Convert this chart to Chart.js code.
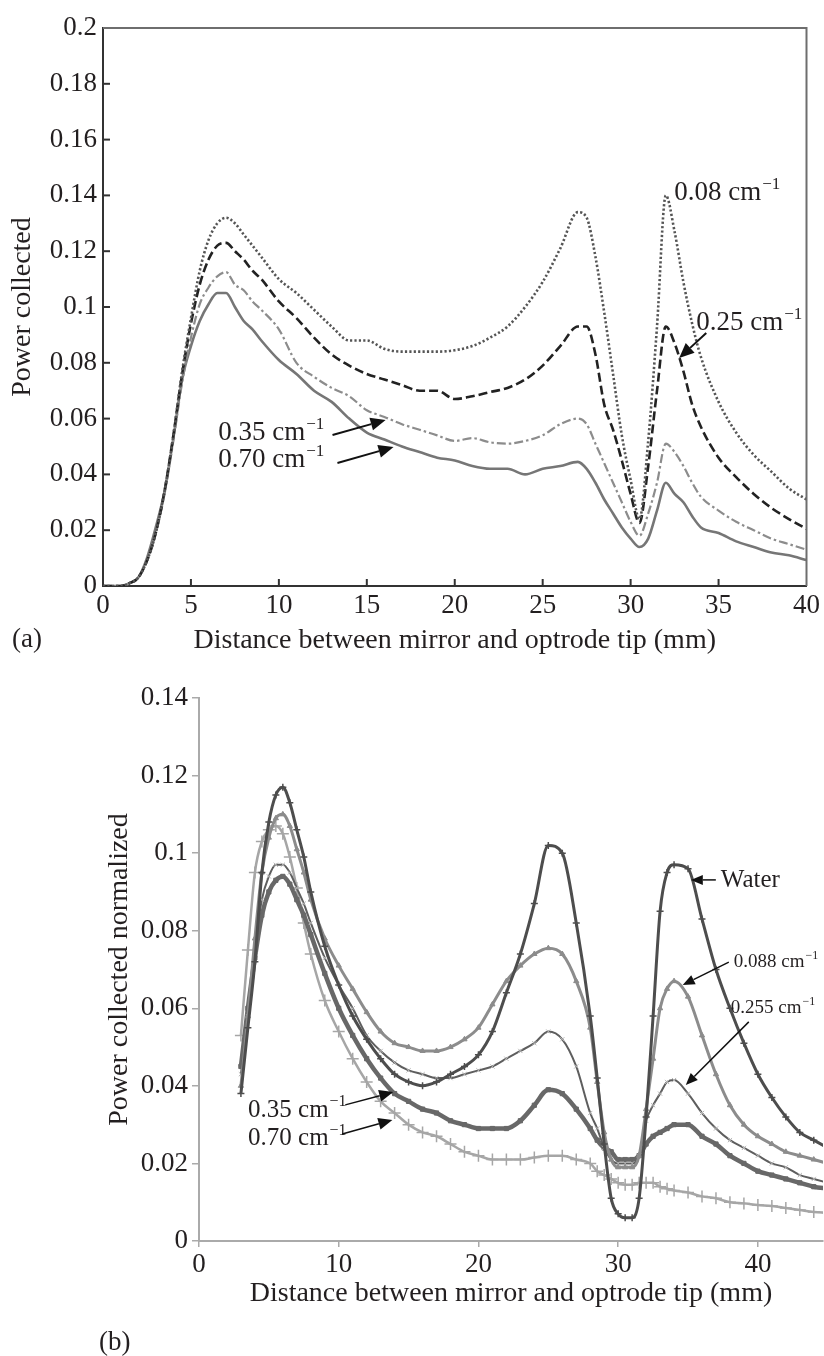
<!DOCTYPE html>
<html><head><meta charset="utf-8">
<script src="https://cdn.jsdelivr.net/npm/chart.js@4.4.0/dist/chart.umd.min.js"></script>
<style>
html,body{margin:0;padding:0;background:#fff;}
canvas{position:absolute;left:0;display:block;}
#ca{top:0;}
#cb{top:665px;}
</style></head><body>
<canvas id="ca" width="824" height="665" style="width:824px;height:665px"></canvas>
<canvas id="cb" width="824" height="691" style="width:824px;height:691px"></canvas>
<script>
// ---------- Panel (a) data ----------
const xA = [0,0.5,1,1.5,2,2.5,3,3.5,4,4.5,5,5.5,6,6.5,7,7.5,8,8.5,9,
  10,11,12,13,14,15,16,17,18,19,20,21,22,23,24,25,26,27,
  27.5,28,28.5,29,29.5,30,30.5,31,31.5,32,32.5,33,33.5,34,
  35,36,37,38,39,40];
const a008 = [0,0,0,0.001,0.003,0.009,0.019,0.034,0.054,0.077,0.096,0.113,0.124,0.130,0.132,0.130,0.126,0.122,0.118,
  0.110,0.105,0.099,0.093,0.088,0.088,0.085,0.084,0.084,0.084,0.0845,0.086,0.089,0.093,0.100,0.109,0.121,0.134,
  0.132,0.118,0.098,0.076,0.054,0.038,0.024,0.052,0.093,0.140,0.127,0.109,0.094,0.082,
  0.066,0.055,0.047,0.041,0.035,0.031];
const a025 = [0,0,0,0.001,0.003,0.009,0.019,0.034,0.054,0.076,0.094,0.108,0.117,0.122,0.123,0.120,0.117,0.113,0.110,
  0.102,0.096,0.089,0.083,0.079,0.076,0.074,0.072,0.070,0.070,0.067,0.068,0.0695,0.071,0.074,0.079,0.086,0.093,
  0.093,0.083,0.065,0.056,0.045,0.033,0.0226,0.043,0.070,0.093,0.087,0.077,0.065,0.057,
  0.046,0.039,0.033,0.028,0.024,0.0205];
const a035 = [0,0,0,0.001,0.003,0.009,0.019,0.033,0.052,0.073,0.089,0.101,0.107,0.111,0.1125,0.108,0.106,0.102,0.099,
  0.092,0.080,0.075,0.071,0.068,0.063,0.0606,0.058,0.056,0.054,0.052,0.053,0.0515,0.051,0.052,0.054,0.058,0.060,
  0.058,0.051,0.044,0.037,0.030,0.023,0.018,0.026,0.037,0.051,0.048,0.043,0.037,0.032,
  0.027,0.023,0.020,0.017,0.015,0.013];
const a070 = [0,0,0,0.001,0.003,0.010,0.021,0.034,0.053,0.074,0.086,0.095,0.101,0.105,0.105,0.100,0.095,0.092,0.088,
  0.081,0.076,0.070,0.066,0.060,0.055,0.0525,0.050,0.048,0.046,0.045,0.043,0.042,0.042,0.040,0.042,0.043,0.0445,
  0.042,0.037,0.031,0.026,0.021,0.017,0.014,0.017,0.027,0.037,0.033,0.030,0.025,0.021,
  0.019,0.016,0.014,0.012,0.011,0.0093];
const xTicksA = [0,5,10,15,20,25,30,35,40];
const yTicksA = [0,0.02,0.04,0.06,0.08,0.1,0.12,0.14,0.16,0.18,0.2];

// ---------- Panel (b) data ----------
const xB = [3,3.5,4,4.5,5,5.5,6,6.5,7,7.5,8,
  9,10,11,12,13,14,15,16,17,18,19,20,21,22,23,24,25,26,27,28,
  28.5,29,29.5,30,30.5,31,31.5,32,32.5,33,33.5,34,
  35,36,37,38,39,40,41,42,43,44,45];
const bWater = [0.038,0.055,0.072,0.095,0.108,0.115,0.117,0.113,0.106,0.099,0.090,
  0.076,0.066,0.058,0.052,0.047,0.043,0.041,0.040,0.041,0.043,0.045,0.048,0.054,0.064,0.074,0.087,0.102,0.100,0.082,0.058,
  0.042,0.025,0.011,0.007,0.006,0.006,0.011,0.032,0.058,0.085,0.095,0.097,
  0.096,0.083,0.070,0.060,0.051,0.043,0.037,0.032,0.028,0.026,0.024];
const b088 = [0.040,0.058,0.078,0.095,0.104,0.109,0.110,0.107,0.101,0.095,0.088,
  0.078,0.071,0.065,0.059,0.054,0.051,0.050,0.049,0.049,0.050,0.052,0.055,0.061,0.067,0.071,0.074,0.0755,0.074,0.067,0.055,
  0.041,0.028,0.021,0.019,0.019,0.019,0.022,0.034,0.047,0.060,0.065,0.067,
  0.063,0.053,0.043,0.035,0.030,0.027,0.025,0.023,0.022,0.021,0.020];
const b255 = [0.043,0.058,0.075,0.088,0.094,0.097,0.097,0.095,0.091,0.087,0.082,
  0.073,0.066,0.060,0.053,0.049,0.046,0.044,0.043,0.042,0.042,0.043,0.044,0.045,0.047,0.049,0.051,0.054,0.052,0.045,0.033,
  0.029,0.024,0.021,0.020,0.020,0.020,0.022,0.031,0.035,0.038,0.041,0.0415,
  0.038,0.033,0.029,0.026,0.024,0.022,0.020,0.019,0.017,0.016,0.015];
const b035 = [0.045,0.060,0.073,0.084,0.090,0.093,0.094,0.092,0.088,0.084,0.079,
  0.069,0.060,0.053,0.047,0.042,0.038,0.036,0.034,0.033,0.031,0.030,0.029,0.029,0.029,0.031,0.035,0.039,0.038,0.034,0.029,
  0.026,0.024,0.023,0.021,0.021,0.021,0.022,0.025,0.027,0.028,0.029,0.030,
  0.030,0.027,0.025,0.022,0.020,0.018,0.017,0.016,0.015,0.014,0.0135];
const b070 = [0.053,0.075,0.095,0.103,0.106,0.107,0.105,0.099,0.091,0.082,0.074,
  0.062,0.054,0.047,0.041,0.036,0.033,0.030,0.028,0.027,0.025,0.023,0.022,0.021,0.021,0.021,0.0215,0.022,0.022,0.021,0.020,
  0.018,0.017,0.016,0.015,0.0145,0.0145,0.015,0.015,0.015,0.014,0.0135,0.013,
  0.0125,0.0115,0.011,0.010,0.0097,0.0093,0.009,0.0085,0.008,0.0075,0.0073];
const xTicksB = [0,10,20,30,40];
const yTicksB = [0,0.02,0.04,0.06,0.08,0.1,0.12,0.14];

// ---------- helpers ----------
const SERIF = '"Liberation Serif", "Times New Roman", serif';
const TXT = '#231f20';
const pts = (xs, ys) => xs.map((x, i) => ({x, y: ys[i]}));

function drawLabel(ctx, main, sup, px, py, size) {
  ctx.fillStyle = TXT;
  ctx.textBaseline = 'alphabetic';
  ctx.textAlign = 'left';
  ctx.font = size + 'px ' + SERIF;
  ctx.fillText(main, px, py);
  if (sup) {
    const w = ctx.measureText(main).width;
    ctx.font = Math.round(size * 0.64) + 'px ' + SERIF;
    ctx.fillText(sup, px + w + 1, py - size * 0.42);
  }
}
function arrow(ctx, x1, y1, x2, y2, head, hw, lw) {
  const ang = Math.atan2(y2 - y1, x2 - x1);
  const bx = x2 - head * Math.cos(ang), by = y2 - head * Math.sin(ang);
  ctx.strokeStyle = '#111'; ctx.fillStyle = '#111'; ctx.lineWidth = lw;
  ctx.setLineDash([]);
  ctx.beginPath(); ctx.moveTo(x1, y1); ctx.lineTo(bx, by); ctx.stroke();
  ctx.beginPath(); ctx.moveTo(x2, y2);
  ctx.lineTo(bx + hw * Math.sin(ang), by - hw * Math.cos(ang));
  ctx.lineTo(bx - hw * Math.sin(ang), by + hw * Math.cos(ang));
  ctx.closePath(); ctx.fill();
}

// annotations in data coordinates
const notesA = [
  {t:'0.08 cm', s:'\u22121', x:32.48, y:0.1384, size:27},
  {t:'0.25 cm', s:'\u22121', x:33.73, y:0.0918, size:27},
  {t:'0.35 cm', s:'\u22121', x:6.55, y:0.0523, size:27},
  {t:'0.70 cm', s:'\u22121', x:6.55, y:0.0427, size:27}
];
const arrowsA = [
  {from:[34.30,0.0907], to:[32.76,0.0817]},
  {from:[13.05,0.0541], to:[16.07,0.0595]},
  {from:[13.33,0.0441], to:[16.52,0.0498]}
];
const notesB = [
  {t:'Water', s:'', x:37.35, y:0.0913, size:25},
  {t:'0.088 cm', s:'\u22121', x:38.28, y:0.0706, size:19},
  {t:'0.255 cm', s:'\u22121', x:38.06, y:0.0588, size:19},
  {t:'0.35 cm', s:'\u22121', x:3.51, y:0.032, size:25},
  {t:'0.70 cm', s:'\u22121', x:3.51, y:0.0247, size:25}
];
const arrowsB = [
  {from:[36.99,0.0931], to:[35.2,0.0931], head:12, hw:5},
  {from:[37.92,0.0719], to:[34.62,0.066], head:12, hw:5},
  {from:[39.35,0.0565], to:[34.84,0.0402], head:12, hw:5},
  {from:[10.47,0.0351], to:[13.9,0.0384], head:14, hw:6},
  {from:[10.25,0.0276], to:[13.84,0.0312], head:14, hw:6}
];

const decorA = {
  id: 'decorA',
  afterDraw(chart) {
    const {ctx, chartArea: a, scales: {x, y}} = chart;
    ctx.save();
    ctx.setLineDash([]);
    ctx.strokeStyle = '#6e6e6e'; ctx.lineWidth = 2;
    ctx.beginPath(); ctx.moveTo(a.left, a.top); ctx.lineTo(a.right, a.top); ctx.lineTo(a.right, a.bottom); ctx.stroke();
    ctx.strokeStyle = '#333'; ctx.lineWidth = 2;
    x.ticks.forEach(t => { const p = x.getPixelForValue(t.value); if (p > a.left + 1 && p < a.right - 1) { ctx.beginPath(); ctx.moveTo(p, a.bottom); ctx.lineTo(p, a.bottom - 7); ctx.stroke(); } });
    y.ticks.forEach(t => { const p = y.getPixelForValue(t.value); if (p > a.top + 1 && p < a.bottom - 1) { ctx.beginPath(); ctx.moveTo(a.left, p); ctx.lineTo(a.left + 7, p); ctx.stroke(); } });
    notesA.forEach(n => drawLabel(ctx, n.t, n.s, x.getPixelForValue(n.x), y.getPixelForValue(n.y), n.size));
    arrowsA.forEach(r => arrow(ctx, x.getPixelForValue(r.from[0]), y.getPixelForValue(r.from[1]), x.getPixelForValue(r.to[0]), y.getPixelForValue(r.to[1]), 15, 6.5, 2));
    drawLabel(ctx, '(a)', '', 12, 647, 27);
    ctx.restore();
  }
};
const decorB = {
  id: 'decorB',
  afterDraw(chart) {
    const {ctx, scales: {x, y}} = chart;
    ctx.save();
    notesB.forEach(n => drawLabel(ctx, n.t, n.s, x.getPixelForValue(n.x), y.getPixelForValue(n.y), n.size));
    arrowsB.forEach(r => arrow(ctx, x.getPixelForValue(r.from[0]), y.getPixelForValue(r.from[1]), x.getPixelForValue(r.to[0]), y.getPixelForValue(r.to[1]), r.head, r.hw, 1.5));
    drawLabel(ctx, '(b)', '', 99, 685, 27);
    ctx.restore();
  }
};

const tickFont = {family: SERIF, size: 27};
const titleFont = {family: SERIF, size: 28};

// ---------- Chart (a) ----------
new Chart(document.getElementById('ca'), {
  type: 'line',
  data: {
    datasets: [
      {label:'0.08 cm-1', data: pts(xA, a008), borderColor:'#555', borderWidth:2.6, borderDash:[2.2,2.2], pointRadius:0, cubicInterpolationMode:'monotone'},
      {label:'0.25 cm-1', data: pts(xA, a025), borderColor:'#222', borderWidth:2.6, borderDash:[9,4], pointRadius:0, cubicInterpolationMode:'monotone'},
      {label:'0.35 cm-1', data: pts(xA, a035), borderColor:'#8c8c8c', borderWidth:2.2, borderDash:[9,3,2.5,3], pointRadius:0, cubicInterpolationMode:'monotone'},
      {label:'0.70 cm-1', data: pts(xA, a070), borderColor:'#767676', borderWidth:2.6, pointRadius:0, cubicInterpolationMode:'monotone'}
    ]
  },
  options: {
    responsive: false, animation: false,
    layout: {padding: {left: 0, right: 17, top: 28, bottom: 0}},
    plugins: {legend: {display: false}, tooltip: {enabled: false}},
    scales: {
      x: {
        type: 'linear', min: 0, max: 40,
        afterBuildTicks: s => { s.ticks = xTicksA.map(v => ({value: v})); },
        afterFit: s => { s.height = 79; },
        grid: {display: true, drawOnChartArea: false, drawTicks: false},
        border: {display: true, color: '#333', width: 2},
        ticks: {font: tickFont, color: TXT, padding: 4, maxRotation: 0, callback: v => String(v)},
        title: {display: true, text: 'Distance between mirror and optrode tip (mm)', font: titleFont, color: TXT, padding: {top: 0, bottom: 8}}
      },
      y: {
        type: 'linear', min: 0, max: 0.2,
        afterBuildTicks: s => { s.ticks = yTicksA.map(v => ({value: v})); },
        afterFit: s => { s.width = 103; },
        grid: {display: true, drawOnChartArea: false, drawTicks: false},
        border: {display: true, color: '#333', width: 2},
        ticks: {font: tickFont, color: TXT, padding: 6, callback: v => String(Math.round(v * 100) / 100)},
        title: {display: true, text: 'Power collected', font: titleFont, color: TXT, padding: {top: 6, bottom: 0}}
      }
    }
  },
  plugins: [decorA]
});

// ---------- Chart (b) ----------
new Chart(document.getElementById('cb'), {
  type: 'line',
  data: {
    datasets: [
      {label:'Water', data: pts(xB, bWater), borderColor:'#4d4d4d', borderWidth:3, pointStyle:'cross', pointRadius:3.5, pointBorderColor:'#4d4d4d', pointBorderWidth:1.5, cubicInterpolationMode:'monotone'},
      {label:'0.088 cm-1', data: pts(xB, b088), borderColor:'#8c8c8c', borderWidth:3, pointStyle:'triangle', pointRadius:3, pointBackgroundColor:'#8c8c8c', pointBorderColor:'#8c8c8c', pointBorderWidth:1, cubicInterpolationMode:'monotone'},
      {label:'0.255 cm-1', data: pts(xB, b255), borderColor:'#5e5e5e', borderWidth:2, pointStyle:'crossRot', pointRadius:3, pointBorderColor:'#b4b4b4', pointBorderWidth:1, cubicInterpolationMode:'monotone'},
      {label:'0.35 cm-1', data: pts(xB, b035), borderColor:'#686868', borderWidth:4.5, pointStyle:'rect', pointRadius:3, pointBackgroundColor:'#686868', pointBorderColor:'#686868', pointBorderWidth:1, cubicInterpolationMode:'monotone'},
      {label:'0.70 cm-1', data: pts(xB, b070), borderColor:'#a6a6a6', borderWidth:2.5, pointStyle:'cross', pointRadius:6, pointBorderColor:'#a6a6a6', pointBorderWidth:1.5, cubicInterpolationMode:'monotone'}
    ]
  },
  options: {
    responsive: false, animation: false,
    layout: {autoPadding: false, padding: {left: 0, right: 1, top: 33, bottom: 0}},
    plugins: {legend: {display: false}, tooltip: {enabled: false}},
    scales: {
      x: {
        type: 'linear', min: 0, max: 44.66,
        afterBuildTicks: s => { s.ticks = xTicksB.map(v => ({value: v})); },
        afterFit: s => { s.height = 115; s.paddingLeft = 0; s.paddingRight = 0; },
        grid: {display: true, drawOnChartArea: false, drawTicks: true, tickLength: 6, color: '#aaa', lineWidth: 1.5},
        border: {display: true, color: '#aaa', width: 2},
        ticks: {font: tickFont, color: TXT, padding: 2, maxRotation: 0, callback: v => String(v)},
        title: {display: true, text: 'Distance between mirror and optrode tip (mm)', font: titleFont, color: TXT, padding: {top: 0, bottom: 46}}
      },
      y: {
        type: 'linear', min: 0, max: 0.14,
        afterBuildTicks: s => { s.ticks = yTicksB.map(v => ({value: v})); },
        afterFit: s => { s.width = 199; },
        grid: {display: true, drawOnChartArea: false, drawTicks: true, tickLength: 7, color: '#aaa', lineWidth: 1.5},
        border: {display: true, color: '#aaa', width: 2},
        ticks: {font: tickFont, color: TXT, padding: 4, callback: v => String(Math.round(v * 100) / 100)},
        title: {display: true, text: 'Power collected normalized', font: titleFont, color: TXT, padding: {top: 103, bottom: 0}}
      }
    }
  },
  plugins: [decorB]
});
</script>
</body></html>
